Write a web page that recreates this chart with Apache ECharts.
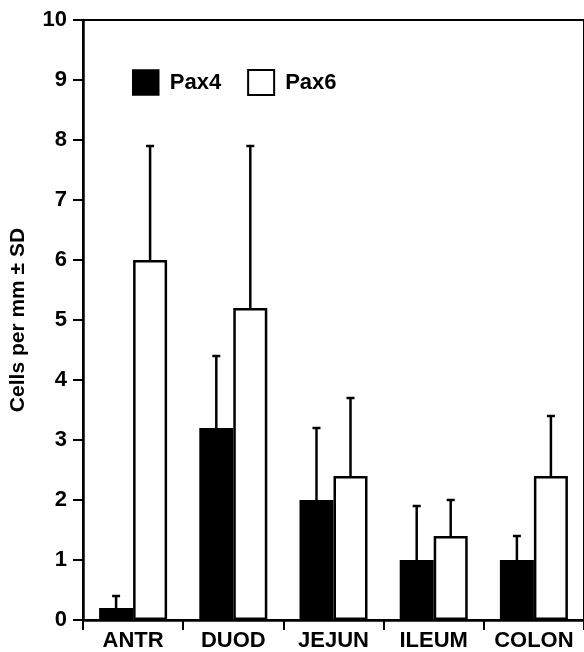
<!DOCTYPE html>
<html><head><meta charset="utf-8">
<script src="https://cdn.jsdelivr.net/npm/echarts@6/dist/echarts.min.js"></script>
<style>html,body{margin:0;padding:0;background:#fff}#c{width:584px;height:652px}</style>
</head><body><div id="c"></div>
<script>
var categories = ['ANTR', 'DUOD', 'JEJUN', 'ILEUM', 'COLON'];
var pax4 = [0.2, 3.2, 2.0, 1.0, 1.0];
var pax4SD = [0.2, 1.2, 1.2, 0.9, 0.4];
var pax6 = [6.0, 5.2, 2.4, 1.4, 2.4];
var pax6SD = [1.9, 2.7, 1.3, 0.6, 1.0];
var yTicks = [0, 1, 2, 3, 4, 5, 6, 7, 8, 9, 10];

var BW = 34;
var font = 'Liberation Sans';
function errData(vals, sds) {
  return vals.map(function (v, i) { return [i, v, v + sds[i]]; });
}
function errRender(offset) {
  return function (params, api) {
    var x = api.value(0);
    var p0 = api.coord([x, api.value(1)]);
    var p1 = api.coord([x, api.value(2)]);
    var cx = p0[0] + offset;
    var st = { stroke: '#000', lineWidth: 2.5 };
    return {
      type: 'group',
      children: [
        { type: 'line', shape: { x1: cx, y1: p0[1], x2: cx, y2: p1[1] }, style: st },
        { type: 'line', shape: { x1: cx - 4, y1: p1[1], x2: cx + 4, y2: p1[1] }, style: st }
      ]
    };
  };
}
var chart = echarts.init(document.getElementById('c'), null, { renderer: 'canvas' });
chart.setOption({
  animation: false,
  backgroundColor: '#fff',
  grid: { left: 78, right: -2, top: 20, bottom: 32, show: true, borderColor: '#000', borderWidth: 2 },
  legend: {
    left: 127, top: 64, itemWidth: 26, itemHeight: 25, itemGap: 26,
    icon: 'rect',
    textStyle: { fontFamily: font, fontWeight: 'bold', fontSize: 22, color: '#000', padding: [0, 0, 0, 6] },
    data: [
      { name: 'Pax4', itemStyle: { color: '#000', borderColor: '#000', borderWidth: 1.5 } },
      { name: 'Pax6', itemStyle: { color: '#fff', borderColor: '#000', borderWidth: 2 } }
    ]
  },
  xAxis: {
    type: 'category', data: categories,
    axisLine: { lineStyle: { color: '#000', width: 2.5 } },
    axisTick: { show: true, interval: 0, length: 10, lineStyle: { color: '#000', width: 2 } },
    axisLabel: { interval: 0, hideOverlap: false, color: '#000', fontFamily: font, fontWeight: 'bold', fontSize: 22, margin: 10 },
    splitLine: { show: false }
  },
  yAxis: {
    type: 'value', min: 0, max: 10, interval: 1,
    name: 'Cells per mm \u00b1 SD', nameLocation: 'middle', nameGap: 54, nameRotate: 90,
    nameTextStyle: { color: '#000', fontFamily: font, fontWeight: 'bold', fontSize: 21 },
    axisLine: { show: true, lineStyle: { color: '#000', width: 2.5 } },
    axisTick: { show: true, length: 10, lineStyle: { color: '#000', width: 2 } },
    axisLabel: { color: '#000', fontFamily: font, fontWeight: 'bold', fontSize: 22, margin: 16,
      formatter: function (v) { return yTicks.indexOf(v) >= 0 ? String(v) : ''; } },
    splitLine: { show: false }
  },
  series: [
    { name: 'Pax4', type: 'bar', data: pax4, barWidth: BW, barGap: '0%',
      itemStyle: { color: '#000', borderColor: '#000', borderWidth: 2 } },
    { name: 'Pax6', type: 'bar', data: pax6, barWidth: BW, barGap: '0%',
      itemStyle: { color: '#fff', borderColor: '#000', borderWidth: 2.5 } },
    { name: 'Pax4err', type: 'custom', data: errData(pax4, pax4SD), renderItem: errRender(-BW / 2),
      encode: { x: 0, y: [1, 2] }, z: 5 },
    { name: 'Pax6err', type: 'custom', data: errData(pax6, pax6SD), renderItem: errRender(BW / 2),
      encode: { x: 0, y: [1, 2] }, z: 5 }
  ]
});
</script></body></html>
